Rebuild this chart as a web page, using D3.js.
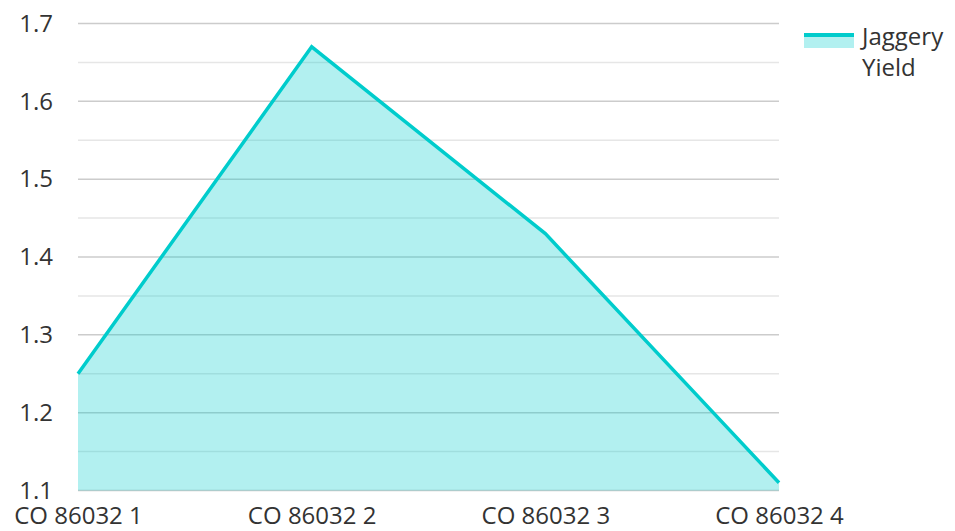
<!DOCTYPE html>
<html><head><meta charset="utf-8">
<script src="https://cdn.jsdelivr.net/npm/d3@7"></script>
<style>body{margin:0;background:#fff}svg{display:block}text{font-family:"Open Sans",sans-serif;fill:#333}</style>
</head><body>
<svg id="c" width="955" height="531"></svg>
<script>
const categories = ["CO 86032 1","CO 86032 2","CO 86032 3","CO 86032 4"];
const jaggeryYield = [1.25, 1.67, 1.43, 1.11];
const yTicks = [1.1,1.2,1.3,1.4,1.5,1.6,1.7];
const yMinor = [1.15,1.25,1.35,1.45,1.55,1.65];
const seriesName = ["Jaggery","Yield"];

const svg = d3.select("#c");
const L=78, R=779, T=23.5, B=490.5;
const x = d3.scalePoint().domain(categories).range([L,R]);
const y = d3.scaleLinear().domain([1.1,1.7]).range([B,T]);
const data = categories.map((c,i)=>({c,v:jaggeryYield[i]}));

svg.append("g").selectAll("line").data(yMinor).join("line")
  .attr("x1",L).attr("x2",R).attr("y1",d=>y(d)).attr("y2",d=>y(d))
  .attr("stroke","#e6e6e6").attr("stroke-width",1.5);
svg.append("g").selectAll("line").data(yTicks).join("line")
  .attr("x1",L).attr("x2",R).attr("y1",d=>y(d)).attr("y2",d=>y(d))
  .attr("stroke","#cccccc").attr("stroke-width",1.5);

svg.append("path").datum(data)
  .attr("d",d3.area().x(d=>x(d.c)).y0(y(1.1)).y1(d=>y(d.v)))
  .attr("fill","rgba(0,204,204,0.3)");
svg.append("path").datum(data)
  .attr("d",d3.line().x(d=>x(d.c)).y(d=>y(d.v)))
  .attr("fill","none").attr("stroke","#00cccc").attr("stroke-width",3.5);

const yAxis = svg.append("g").attr("transform",`translate(${L},0)`)
  .call(d3.axisLeft(y).tickValues(yTicks).tickSize(0).tickPadding(25).tickFormat(d3.format(".1f")));
yAxis.select(".domain").remove();
yAxis.selectAll("text").attr("font-size",24).style("font-family","'Open Sans',sans-serif").attr("fill","#333");

const xAxis = svg.append("g").attr("transform",`translate(0,${B})`)
  .call(d3.axisBottom(x).tickSize(0).tickPadding(16));
xAxis.select(".domain").remove();
xAxis.selectAll("text").attr("font-size",24).style("font-family","'Open Sans',sans-serif").attr("fill","#333");

const lg = svg.append("g");
lg.append("rect").attr("x",804).attr("y",33).attr("width",50).attr("height",15).attr("fill","rgba(0,204,204,0.3)");
lg.append("line").attr("x1",804).attr("x2",854).attr("y1",35).attr("y2",35).attr("stroke","#00cccc").attr("stroke-width",4);
lg.selectAll("text.l").data(seriesName).join("text").attr("class","l")
  .attr("x",862).attr("y",(d,i)=>45+i*31).attr("font-size",24).text(d=>d);
</script>
</body></html>
